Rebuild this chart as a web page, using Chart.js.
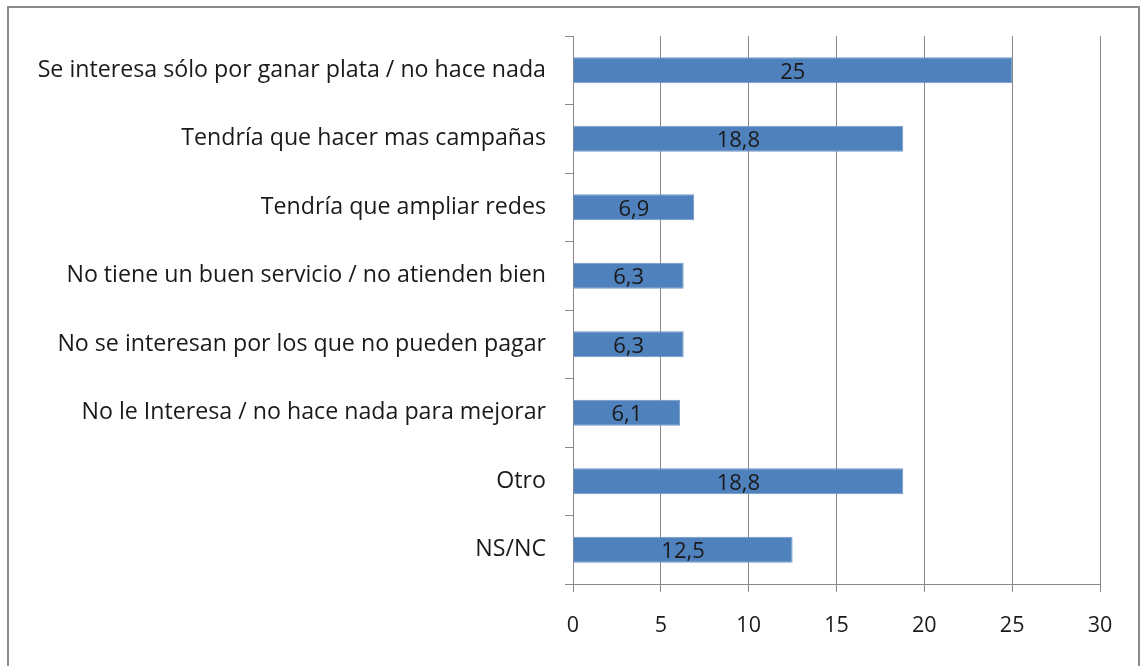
<!DOCTYPE html>
<html>
<head>
<meta charset="utf-8">
<script src="https://cdn.jsdelivr.net/npm/chart.js@4"></script>
<style>
  html, body { margin: 0; padding: 0; background: #fff; }
  #wrap { position: relative; width: 1146px; height: 666px; overflow: hidden; }
  #frame { position: absolute; left: 7px; top: 6px; width: 1133px; height: 700px; border: 2px solid #8a8a8a; box-sizing: border-box; pointer-events: none; }
  canvas { position: absolute; left: 0; top: 0; }
</style>
</head>
<body>
<div id="wrap">
  <canvas id="chart" width="1146" height="666"></canvas>
  <div id="frame"></div>
</div>
<script>
const categories = [
  'Se interesa sólo por ganar plata / no hace nada',
  'Tendría que hacer mas campañas',
  'Tendría que ampliar redes',
  'No tiene un buen servicio / no atienden bien',
  'No se interesan por los que no pueden pagar',
  'No le Interesa / no hace nada para mejorar',
  'Otro',
  'NS/NC',
];
const values = [25, 18.8, 6.9, 6.3, 6.3, 6.1, 18.8, 12.5];
const xTicks = [0, 5, 10, 15, 20, 25, 30];

const FONT = '"Open Sans", sans-serif';

// etiquetas dentro de las barras
const barLabels = {
  id: 'barLabels',
  afterDatasetsDraw(chart) {
    const { ctx } = chart;
    const meta = chart.getDatasetMeta(0);
    ctx.save();
    ctx.font = `22px ${FONT}`;
    ctx.fillStyle = '#1a1a1a';
    ctx.textAlign = 'center';
    ctx.textBaseline = 'middle';
    meta.data.forEach((bar, i) => {
      const cx = (bar.x + bar.base) / 2;
      ctx.fillText(String(values[i]).replace('.', ','), cx, bar.y + 2);
    });
    ctx.restore();
  },
};

Chart.defaults.font.family = FONT;
Chart.defaults.color = '#1a1a1a';

const chart = new Chart(document.getElementById('chart'), {
  type: 'bar',
  data: {
    labels: categories,
    datasets: [{
      data: values,
      backgroundColor: '#4f81bd',
      borderColor: '#6f97c8',
      borderWidth: 1,
      barPercentage: 0.76,
      categoryPercentage: 0.5,
    }],
  },
  options: {
    indexAxis: 'y',
    responsive: false,
    animation: false,
    layout: { padding: { top: 36, right: 46, left: 0, bottom: 0 } },
    plugins: { legend: { display: false }, tooltip: { enabled: false } },
    scales: {
      x: {
        min: 0,
        max: 30,
        afterBuildTicks(scale) { scale.ticks = xTicks.map((v) => ({ value: v })); },
        afterFit(scale) { scale.height = 82; },
        grid: { color: '#888888', lineWidth: 1, tickLength: 8, drawTicks: true },
        border: { color: '#888888', width: 1 },
        ticks: { font: { size: 21.5 }, padding: 21, color: '#1a1a1a' },
      },
      y: {
        afterFit(scale) { scale.width = 573; },
        grid: { drawOnChartArea: false, drawTicks: true, tickLength: 8, color: '#888888', offset: true },
        border: { color: '#888888', width: 1 },
        ticks: { font: { size: 23.2 }, padding: 19, color: '#1a1a1a' },
      },
    },
  },
  plugins: [barLabels],
});
</script>
</body>
</html>
